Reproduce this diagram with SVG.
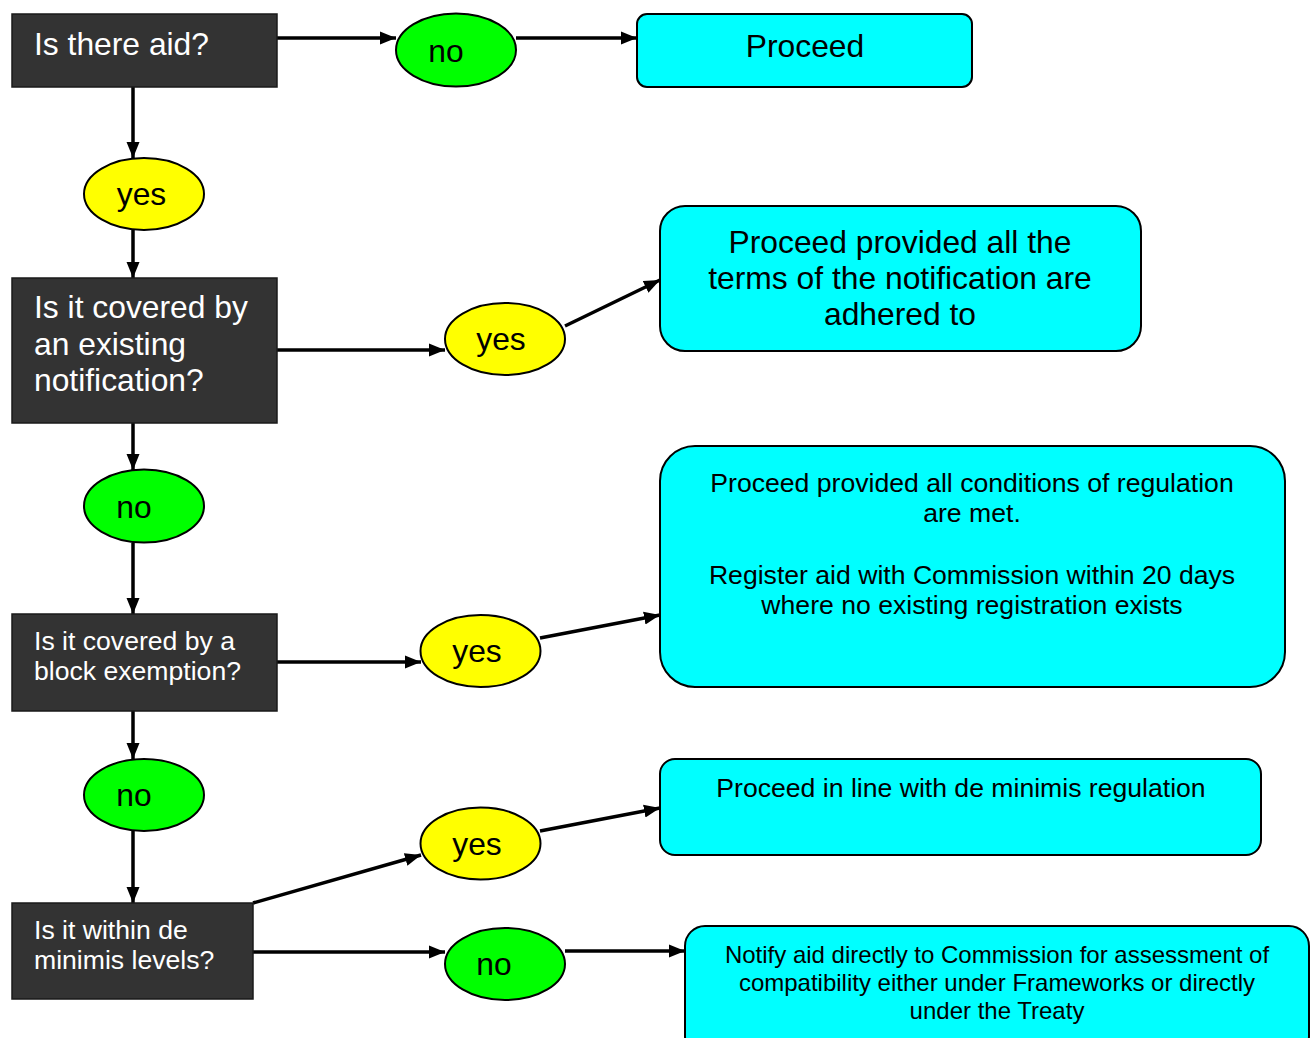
<svg xmlns="http://www.w3.org/2000/svg" width="1314" height="1038" viewBox="0 0 1314 1038">
<defs>
<style>
.q{fill:#333333;stroke:#1a1a1a;stroke-width:1.5}
.qt{fill:#ffffff;font-family:"Liberation Sans",Arial,sans-serif}
.yes{fill:#ffff00;stroke:#000;stroke-width:2}
.no{fill:#00ff00;stroke:#000;stroke-width:2}
.r{fill:#00ffff;stroke:#000;stroke-width:2}
.t{fill:#000;font-family:"Liberation Sans",Arial,sans-serif}
.c{text-anchor:middle}
.big{font-size:31.8px}
.mid{font-size:26.6px}
.sm{font-size:24px}
.e{stroke:#000;stroke-width:3.5;fill:none;marker-end:url(#ah)}
</style>
<marker id="ah" markerUnits="userSpaceOnUse" markerWidth="17" markerHeight="14" refX="16" refY="7" orient="auto">
<path d="M0,0.5 L16,7 L0,13.5 z" fill="#000"/>
</marker>
</defs>
<rect width="1314" height="1038" fill="#ffffff"/>
<g id="connectors">
<line class="e" x1="277" y1="38" x2="396" y2="38"/>
<line class="e" x1="516" y1="38" x2="637" y2="38"/>
<line class="e" x1="133" y1="87" x2="133" y2="158"/>
<line class="e" x1="133" y1="230" x2="133" y2="278"/>
<line class="e" x1="277" y1="350" x2="445" y2="350"/>
<line class="e" x1="565" y1="326" x2="660" y2="280"/>
<line class="e" x1="133" y1="423" x2="133" y2="470"/>
<line class="e" x1="133" y1="543" x2="133" y2="614"/>
<line class="e" x1="277" y1="662" x2="421" y2="662"/>
<line class="e" x1="540" y1="638" x2="660" y2="615"/>
<line class="e" x1="133" y1="711" x2="133" y2="759"/>
<line class="e" x1="133" y1="831" x2="133" y2="903"/>
<line class="e" x1="253" y1="903" x2="421" y2="855"/>
<line class="e" x1="540" y1="831" x2="660" y2="808"/>
<line class="e" x1="253" y1="952" x2="445" y2="952"/>
<line class="e" x1="565" y1="951" x2="685" y2="951"/>
</g>
<g id="q1">
<rect class="q" x="12" y="14" width="265" height="73"/>
<text class="qt big" x="34" y="55">Is there aid?</text>
</g>
<g id="no1">
<ellipse class="no" cx="456" cy="50" rx="60" ry="36.5"/>
<text class="t big c" x="446" y="62">no</text>
</g>
<g id="proceed1">
<rect class="r" x="637" y="14" width="335" height="73" rx="10"/>
<text class="t big c" x="805" y="57">Proceed</text>
</g>
<g id="yes1">
<ellipse class="yes" cx="144" cy="194" rx="60" ry="36"/>
<text class="t big c" x="141.5" y="205">yes</text>
</g>
<g id="q2">
<rect class="q" x="12" y="278" width="265" height="145"/>
<text class="qt big" x="34" y="318">Is it covered by</text>
<text class="qt big" x="34" y="355">an existing</text>
<text class="qt big" x="34" y="391">notification?</text>
</g>
<g id="yes2">
<ellipse class="yes" cx="505" cy="339" rx="60" ry="36"/>
<text class="t big c" x="501" y="350">yes</text>
</g>
<g id="proceed2">
<rect class="r" x="660" y="206" width="481" height="145" rx="25"/>
<text class="t big c" x="900" y="253">Proceed provided all the</text>
<text class="t big c" x="900" y="289">terms of the notification are</text>
<text class="t big c" x="900" y="325">adhered to</text>
</g>
<g id="no2">
<ellipse class="no" cx="144" cy="506" rx="60" ry="36.5"/>
<text class="t big c" x="134" y="518">no</text>
</g>
<g id="q3">
<rect class="q" x="12" y="614" width="265" height="97"/>
<text class="qt mid" x="34" y="650">Is it covered by a</text>
<text class="qt mid" x="34" y="680">block exemption?</text>
</g>
<g id="yes3">
<ellipse class="yes" cx="480.5" cy="651" rx="60" ry="36"/>
<text class="t big c" x="477" y="662">yes</text>
</g>
<g id="proceed3">
<rect class="r" x="660" y="446" width="625" height="241" rx="35"/>
<text class="t mid c" x="972" y="492">Proceed provided all conditions of regulation</text>
<text class="t mid c" x="972" y="522">are met.</text>
<text class="t mid c" x="972" y="584">Register aid with Commission within 20 days</text>
<text class="t mid c" x="972" y="614">where no existing registration exists</text>
</g>
<g id="no3">
<ellipse class="no" cx="144" cy="795" rx="60" ry="36"/>
<text class="t big c" x="134" y="806">no</text>
</g>
<g id="q4">
<rect class="q" x="12" y="903" width="241" height="96"/>
<text class="qt mid" x="34" y="939">Is it within de</text>
<text class="qt mid" x="34" y="969">minimis levels?</text>
</g>
<g id="yes4">
<ellipse class="yes" cx="480.5" cy="843.5" rx="60" ry="36"/>
<text class="t big c" x="477" y="855">yes</text>
</g>
<g id="proceed4">
<rect class="r" x="660" y="759" width="601" height="96" rx="15"/>
<text class="t mid c" x="961" y="797">Proceed in line with de minimis regulation</text>
</g>
<g id="no4">
<ellipse class="no" cx="505" cy="964" rx="60" ry="36"/>
<text class="t big c" x="494" y="975">no</text>
</g>
<g id="notify">
<rect class="r" x="685" y="926" width="624" height="130" rx="20"/>
<text class="t sm c" x="997" y="963">Notify aid directly to Commission for assessment of</text>
<text class="t sm c" x="997" y="991">compatibility either under Frameworks or directly</text>
<text class="t sm c" x="997" y="1019">under the Treaty</text>
</g>
</svg>
